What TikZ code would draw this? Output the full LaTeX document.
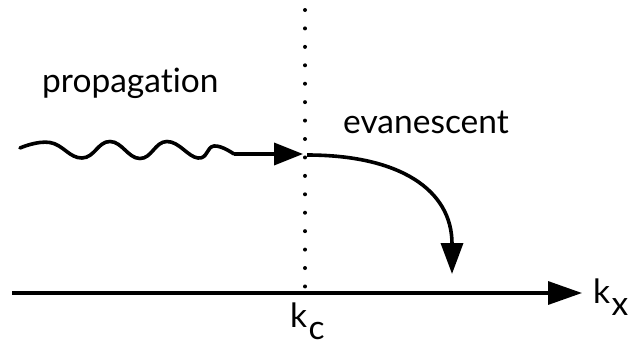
\documentclass[tikz,border=0pt]{standalone}
\usepackage{fontspec}
\setmainfont{Lato}[Ligatures={NoCommon}]
\usetikzlibrary{arrows.meta}
\tikzset{
  thick line/.style={line width=3.6pt},
  wavetip/.style={-{Triangle[length=29pt,width=22pt]}},
  curvetip/.style={-{Triangle[length=31pt,width=22pt]}},
  axistip/.style={-{Triangle[length=34pt,width=23pt]}},
  label text/.style={font=\fontsize{33.5}{38}\selectfont, inner sep=0pt, anchor=base west},
}
\newcommand{\subx}[1]{\hspace{1.5pt}\raisebox{-12pt}{#1}}
\begin{document}
\begin{tikzpicture}[x=1pt,y=-1pt]
\useasboundingbox (0,0) rectangle (628,348);
% dotted cut-off line
\coordinate (dtop) at (305,10);
\coordinate (dbot) at (305,287);
\draw[line width=4pt, line cap=round, dash pattern=on 0pt off 18.43pt] (dtop) -- (dbot);
% wave
\coordinate (w0) at (20,148);
\coordinate (w1) at (234,154);
\coordinate (c) at (303,154);
\draw[thick line, line join=round, line cap=round] plot[smooth, tension=0.75] coordinates
  {(w0) (50,142.5) (82,158) (110,141.5) (140,158.5) (167,141.5) (198,158) (214,146) (w1)};
\draw[thick line, wavetip] (w1) -- (c);
% evanescent curve
\coordinate (e0) at (307,155);
\coordinate (e1) at (452,274);
\draw[thick line, curvetip] (e0) .. controls (400,155) and (452,190) .. (e1);
% axis
\coordinate (a0) at (12,293);
\coordinate (a1) at (582,293);
\draw[line width=3.4pt, axistip] (a0) -- (a1);
% labels
\node[label text] (prop) at (42,92) {propagation};
\node[label text] (evan) at (343,133) {evanescent};
\node[label text] (kx) at (593,303) {k\subx{x}};
\node[label text] (kc) at (290,327) {k\subx{c}};
\end{tikzpicture}
\end{document}
